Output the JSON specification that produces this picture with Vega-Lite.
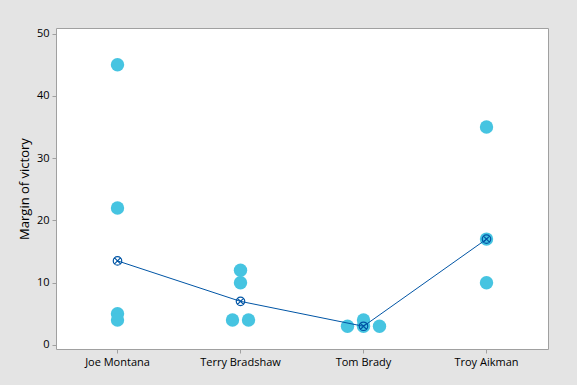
{
  "$schema": "https://vega.github.io/schema/vega-lite/v6.json",
  "width": 492,
  "height": 321,
  "autosize": {"type": "none"},
  "padding": {"left": 56, "top": 28, "right": 29, "bottom": 36},
  "background": "#e4e4e4",
  "config": {
    "view": {"fill": "white", "stroke": "#a0a0a0", "strokeWidth": 1},
    "font": "Open Sans",
    "axis": {
      "domain": false,
      "grid": false,
      "tickColor": "#a0a0a0",
      "tickSize": 4,
      "labelColor": "black",
      "labelFont": "Open Sans",
      "labelFontSize": 11,
      "titleFont": "Open Sans",
      "titleFontWeight": "normal",
      "titleColor": "black"
    }
  },
  "data": {
    "values": [
      {"qb": "Joe Montana", "margin": 45, "slot": 0},
      {"qb": "Joe Montana", "margin": 22, "slot": 0},
      {"qb": "Joe Montana", "margin": 5, "slot": 0},
      {"qb": "Joe Montana", "margin": 4, "slot": 0},
      {"qb": "Terry Bradshaw", "margin": 12, "slot": 0},
      {"qb": "Terry Bradshaw", "margin": 10, "slot": 0},
      {"qb": "Terry Bradshaw", "margin": 4, "slot": -1},
      {"qb": "Terry Bradshaw", "margin": 4, "slot": 1},
      {"qb": "Tom Brady", "margin": 3, "slot": -2},
      {"qb": "Tom Brady", "margin": 3, "slot": 0},
      {"qb": "Tom Brady", "margin": 4, "slot": 0},
      {"qb": "Tom Brady", "margin": 3, "slot": 2},
      {"qb": "Troy Aikman", "margin": 35, "slot": 0},
      {"qb": "Troy Aikman", "margin": 17, "slot": 0},
      {"qb": "Troy Aikman", "margin": 10, "slot": 0}
    ]
  },
  "encoding": {
    "x": {
      "field": "qb",
      "type": "nominal",
      "sort": ["Joe Montana", "Terry Bradshaw", "Tom Brady", "Troy Aikman"],
      "scale": {"paddingInner": 0.74, "paddingOuter": 0.37},
      "axis": {"title": null, "labelAngle": 0, "labelPadding": 3}
    }
  },
  "layer": [
    {
      "mark": {"type": "circle", "size": 180, "color": "#46c4e1", "opacity": 1},
      "encoding": {
        "xOffset": {
          "field": "slot",
          "type": "ordinal",
          "scale": {"domain": [-2, -1, 0, 1, 2], "paddingInner": 0, "paddingOuter": 0}
        },
        "y": {
          "field": "margin",
          "type": "quantitative",
          "scale": {"domain": [-0.65, 50.9], "nice": false, "zero": false},
          "axis": {"title": "Margin of victory", "titleFontSize": 13, "values": [0, 10, 20, 30, 40, 50], "labelPadding": 3, "titlePadding": 5}
        }
      }
    },
    {
      "mark": {"type": "line", "color": "#0055a5", "strokeWidth": 1},
      "encoding": {
        "y": {"aggregate": "median", "field": "margin", "type": "quantitative"}
      }
    },
    {
      "mark": {
        "type": "point",
        "shape": "M-1,0A1,1 0 1,0 1,0A1,1 0 1,0 -1,0M-0.7,-0.7L0.7,0.7M-0.7,0.7L0.7,-0.7",
        "size": 72,
        "filled": false,
        "stroke": "#0055a5",
        "strokeWidth": 1.2,
        "opacity": 1
      },
      "encoding": {
        "y": {"aggregate": "median", "field": "margin", "type": "quantitative"}
      }
    }
  ]
}
